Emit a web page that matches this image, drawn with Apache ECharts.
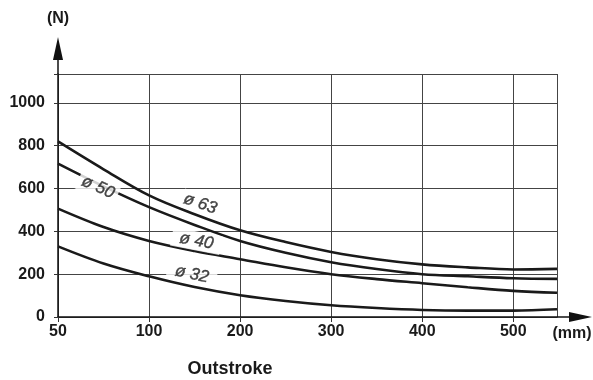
<!DOCTYPE html>
<html>
<head>
<meta charset="utf-8">
<script src="https://cdn.jsdelivr.net/npm/echarts@6/dist/echarts.min.js"></script>
<style>
html,body{margin:0;padding:0;background:#fff;}
#c{width:593px;height:380px;}
</style>
</head>
<body>
<div id="c"></div>
<script>
// ---- data ----
const tickMM = [50, 100, 200, 300, 400, 500];
const X_MAX_MM = 548;
const Y_MAX = 1135;
const yTicks = [0, 200, 400, 600, 800, 1000];
const xMM = [50, 75, 100, 150, 200, 250, 300, 350, 400, 450, 500, 548];
const d63 = [820, 690, 568, 480, 405, 350, 304, 270, 246, 232, 222, 225];
const d50 = [716, 610, 513, 430, 355, 300, 256, 224, 200, 190, 181, 178];
const d40 = [506, 420, 355, 308, 270, 232, 200, 177, 158, 139, 122, 113];
const d32 = [330, 250, 190, 140, 102, 75, 55, 42, 33, 30, 30, 36];
const curveNames = ['ø 63', 'ø 50', 'ø 40', 'ø 32'];
const labelMM = [156, 72, 152, 147];
const labelN = [529, 606, 355, 200];
const labelAngle = [-19, -24, -11, -12];

// non-uniform stroke axis: 50..100 spans the same width as each 100 mm step
function pos(mm) {
  return mm <= 100 ? (mm - 50) / 50 : 1 + (mm - 100) / 100;
}
const FONT = 'Liberation Sans, Arial, Helvetica, sans-serif';
const chart = echarts.init(document.getElementById('c'), null, {renderer: 'canvas'});

function lineSeries(name, vals) {
  return {
    name: name, type: 'line', smooth: 0.35, symbol: 'none', silent: true,
    lineStyle: {color: '#1a1a1a', width: 2.6},
    z: 3,
    data: xMM.map((m, i) => [pos(m), vals[i]])
  };
}
const pads = [[1, 2], [2, 4], [1, 8], [1, 8]];

const option = {
  animation: false,
  backgroundColor: '#fff',
  grid: {left: 58, right: 36, top: 74, bottom: 63, containLabel: false},
  xAxis: {
    type: 'value', min: 0, max: pos(X_MAX_MM), interval: 1,
    axisLine: {show: true, lineStyle: {color: '#111', width: 1.5}},
    axisTick: {show: true, length: 5, lineStyle: {color: '#333', width: 1}},
    axisLabel: {
      margin: 7, color: '#1a1a1a', fontFamily: FONT, fontWeight: 'bold', fontSize: 16,
      showMaxLabel: false,
      formatter: function (v) {
        const i = Math.round(v);
        return Math.abs(v - i) < 1e-6 && tickMM[i] !== undefined ? String(tickMM[i]) : '';
      }
    },
    splitLine: {show: true, lineStyle: {color: '#444', width: 1}}
  },
  yAxis: {
    type: 'value', min: 0, max: Y_MAX, interval: 200,
    name: '(N)', nameLocation: 'end', nameGap: 47,
    nameTextStyle: {color: '#1a1a1a', fontFamily: FONT, fontWeight: 'bold', fontSize: 16, align: 'center'},
    axisLine: {show: true, lineStyle: {color: '#111', width: 1.5}},
    axisTick: {show: true, length: 4, lineStyle: {color: '#333', width: 1}},
    axisLabel: {
      margin: 13, color: '#1a1a1a', fontFamily: FONT, fontWeight: 'bold', fontSize: 16,
      formatter: function (v) { return yTicks.indexOf(v) >= 0 ? String(v) : ''; }
    },
    splitLine: {show: true, lineStyle: {color: '#444', width: 1}}
  },
  series: [
    lineSeries('63', d63),
    lineSeries('50', d50),
    lineSeries('40', d40),
    lineSeries('32', d32),
    {
      type: 'scatter', silent: true, z: 10, symbolSize: 1,
      itemStyle: {color: 'rgba(0,0,0,0)'},
      data: curveNames.map((t, i) => ({
        value: [pos(labelMM[i]), labelN[i]],
        label: {
          show: true, position: 'inside', formatter: t, rotate: labelAngle[i],
          fontFamily: FONT, fontSize: 17, fontStyle: 'italic', color: '#1a1a1a',
          textBorderColor: '#1a1a1a', textBorderWidth: 0.4,
          backgroundColor: '#fff', padding: pads[i]
        }
      }))
    }
  ]
};
chart.setOption(option);

const o = chart.convertToPixel({gridIndex: 0}, [0, 0]);
const tr = chart.convertToPixel({gridIndex: 0}, [pos(X_MAX_MM), Y_MAX]);
chart.setOption({
  graphic: [
    {type: 'line', shape: {x1: o[0], y1: tr[1], x2: o[0], y2: tr[1] - 20}, style: {stroke: '#111', lineWidth: 1.5}},
    {type: 'polygon', shape: {points: [[o[0], tr[1] - 37], [o[0] - 5, tr[1] - 14], [o[0] + 5, tr[1] - 14]]}, style: {fill: '#111'}},
    {type: 'line', shape: {x1: tr[0], y1: o[1], x2: tr[0] + 16, y2: o[1]}, style: {stroke: '#111', lineWidth: 1.5}},
    {type: 'polygon', shape: {points: [[tr[0] + 35, o[1]], [tr[0] + 12, o[1] - 5], [tr[0] + 12, o[1] + 5]]}, style: {fill: '#111'}},
    {type: 'text', x: tr[0] + 15, y: o[1] + 17, style: {text: '(mm)', font: 'bold 16px ' + FONT, fill: '#1a1a1a', textAlign: 'center', textVerticalAlign: 'middle'}},
    {type: 'text', x: 230, y: 369, style: {text: 'Outstroke', font: 'bold 18px ' + FONT, fill: '#1a1a1a', textAlign: 'center', textVerticalAlign: 'middle'}}
  ]
});
</script>
</body>
</html>
